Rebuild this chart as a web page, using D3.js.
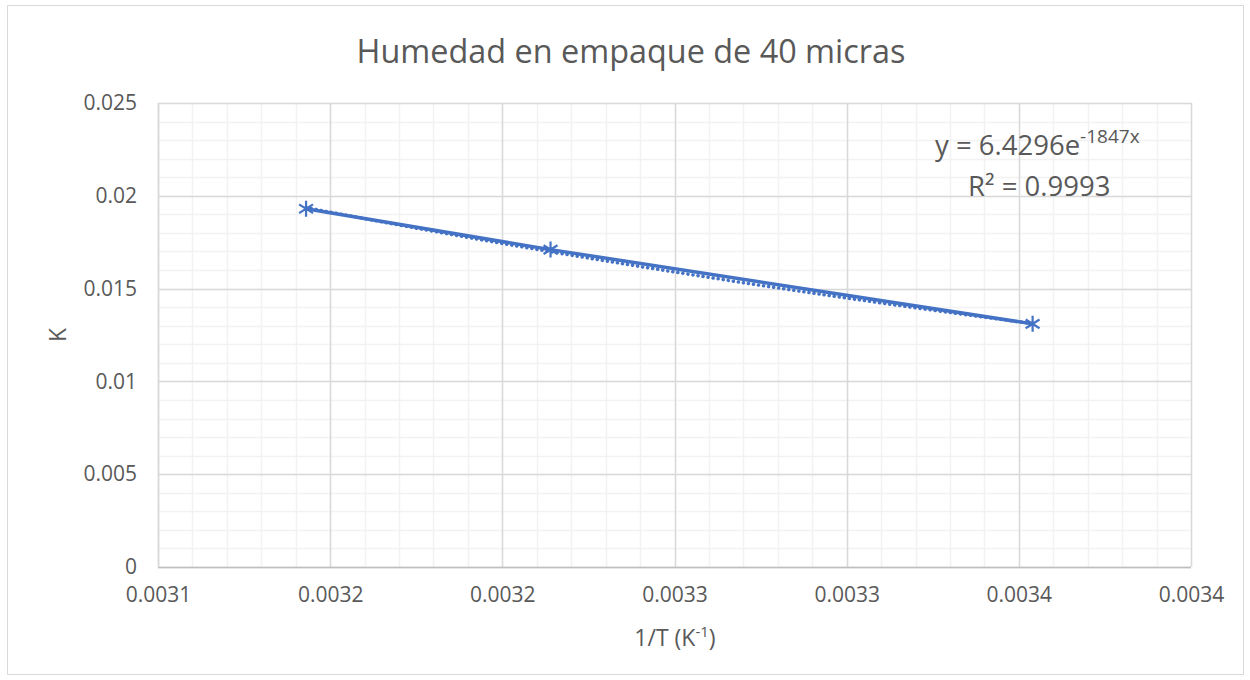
<!DOCTYPE html>
<html>
<head>
<meta charset="utf-8">
<script src="https://cdn.jsdelivr.net/npm/d3@7"></script>
<style>
  body { margin: 0; background: #fff; }
  svg text { font-family: "Open Sans", sans-serif; fill: #595959; }
</style>
</head>
<body>
<div id="chart"></div>
<script>
// 1/T (K^-1) and K
const invT = [0.003143, 0.003214, 0.003354];
const kVals = [0.0193, 0.0171, 0.0131];

const xTicks = [0.0031, 0.00315, 0.0032, 0.00325, 0.0033, 0.00335, 0.0034];
const xTickLabels = ["0.0031", "0.0032", "0.0032", "0.0033", "0.0033", "0.0034", "0.0034"];
const yTicks = [0, 0.005, 0.01, 0.015, 0.02, 0.025];
const yTickLabels = ["0", "0.005", "0.01", "0.015", "0.02", "0.025"];

// exponential trendline shown on the chart
const fitA = 6.4296;
const fitB = -1847;

const width = 1250, height = 680;
const pLeft = 158, pRight = 1191, pTop = 103, pBottom = 567;
const blue = "#4472C4";

const svg = d3.select("#chart").append("svg")
  .attr("width", width)
  .attr("height", height);

svg.append("rect")
  .attr("x", 7.5).attr("y", 5.5)
  .attr("width", 1236).attr("height", 669)
  .attr("fill", "#fff")
  .attr("stroke", "#d9d9d9");

let x = d3.scaleLinear().domain([0.0031, 0.0034]).range([pLeft, pRight]);
let y = d3.scaleLinear().domain([0, 0.025]).range([pBottom, pTop]);

// minor grid
const xMinor = d3.range(0, 31).map(i => 0.0031 + i * 0.00001);
const yMinor = d3.range(0, 26).map(i => i * 0.001);
svg.append("g").selectAll("line").data(xMinor).enter().append("line")
  .attr("x1", d => Math.round(x(d)) + 0.5).attr("x2", d => Math.round(x(d)) + 0.5)
  .attr("y1", pTop).attr("y2", pBottom)
  .attr("stroke", "#f2f2f2").attr("stroke-width", 1.5);
svg.append("g").selectAll("line").data(yMinor).enter().append("line")
  .attr("y1", d => Math.round(y(d)) + 0.5).attr("y2", d => Math.round(y(d)) + 0.5)
  .attr("x1", pLeft).attr("x2", pRight)
  .attr("stroke", "#f2f2f2").attr("stroke-width", 1.5);

// major grid
svg.append("g").selectAll("line").data(xTicks).enter().append("line")
  .attr("x1", d => Math.round(x(d)) + 0.5).attr("x2", d => Math.round(x(d)) + 0.5)
  .attr("y1", pTop).attr("y2", pBottom)
  .attr("stroke", "#d9d9d9").attr("stroke-width", 1.5);
svg.append("g").selectAll("line").data(yTicks).enter().append("line")
  .attr("y1", d => Math.round(y(d)) + 0.5).attr("y2", d => Math.round(y(d)) + 0.5)
  .attr("x1", pLeft).attr("x2", pRight)
  .attr("stroke", "#d9d9d9").attr("stroke-width", 1.5);

// axes (labels only, lines drawn as grid)
const xAxis = svg.append("g")
  .attr("transform", `translate(0,${pBottom})`)
  .call(d3.axisBottom(x).tickValues(xTicks).tickSize(0).tickPadding(20)
    .tickFormat((d, i) => xTickLabels[i]));
const yAxis = svg.append("g")
  .attr("transform", `translate(${pLeft},0)`)
  .call(d3.axisLeft(y).tickValues(yTicks).tickSize(0).tickPadding(21)
    .tickFormat((d, i) => yTickLabels[i]));
[xAxis, yAxis].forEach(a => {
  a.select(".domain").remove();
  a.selectAll("text").attr("font-size", 21).attr("font-family", null).attr("fill", "#595959");
});
xAxis.selectAll("text").attr("dy", "0.71em");

// axis lines
svg.append("line").attr("x1", pLeft).attr("x2", pRight)
  .attr("y1", pBottom + 0.5).attr("y2", pBottom + 0.5)
  .attr("stroke", "#bfbfbf").attr("stroke-width", 1.5);
svg.append("line").attr("x1", pLeft + 0.5).attr("x2", pLeft + 0.5)
  .attr("y1", pTop).attr("y2", pBottom)
  .attr("stroke", "#d9d9d9").attr("stroke-width", 1.5);

// title
svg.append("text")
  .attr("x", 631).attr("y", 63)
  .attr("text-anchor", "middle")
  .attr("font-size", 32.4)
  .text("Humedad en empaque de 40 micras");

// axis titles
const xt = svg.append("text")
  .attr("x", 675).attr("y", 646)
  .attr("text-anchor", "middle")
  .attr("font-size", 23);
xt.append("tspan").text("1/T (K");
xt.append("tspan").attr("font-size", 15).attr("dy", -9).text("-1");
xt.append("tspan").attr("dy", 9).text(")");

svg.append("text")
  .attr("transform", `translate(66,${(pTop + pBottom) / 2}) rotate(-90)`)
  .attr("text-anchor", "middle")
  .attr("font-size", 23)
  .text("K");

// series line + markers
const pts = invT.map((v, i) => [v, kVals[i]]);
let line = d3.line().x(d => x(d[0])).y(d => y(d[1]));

svg.append("path")
  .datum(pts)
  .attr("d", line)
  .attr("fill", "none")
  .attr("stroke", blue)
  .attr("stroke-width", 3.5);

// trendline
const trend = d3.range(0, 101).map(i => {
  const v = invT[0] + (invT[invT.length - 1] - invT[0]) * i / 100;
  return [v, fitA * Math.exp(fitB * v)];
});
svg.append("path")
  .datum(trend)
  .attr("d", line)
  .attr("fill", "none")
  .attr("stroke", blue)
  .attr("stroke-width", 3.5)
  .attr("stroke-linecap", "round")
  .attr("stroke-dasharray", "0.1,5");

const s = 8;
svg.append("g").selectAll("path").data(pts).enter().append("path")
  .attr("transform", d => `translate(${x(d[0])},${y(d[1])})`)
  .attr("d", `M0,${-s}V${s}M${-s * 0.87},${-s * 0.55}L${s * 0.87},${s * 0.55}M${-s * 0.87},${s * 0.55}L${s * 0.87},${-s * 0.55}`)
  .attr("stroke", blue)
  .attr("stroke-width", 2.2)
  .attr("fill", "none");

// equation label
const eq = svg.append("text")
  .attr("x", 935).attr("y", 155)
  .attr("font-size", 27.5);
eq.append("tspan").text("y = 6.4296e");
eq.append("tspan").attr("font-size", 19).attr("dy", -12).text("-1847x");
svg.append("text")
  .attr("x", 968).attr("y", 196)
  .attr("font-size", 27.5)
  .text("R² = 0.9993");
</script>
</body>
</html>
